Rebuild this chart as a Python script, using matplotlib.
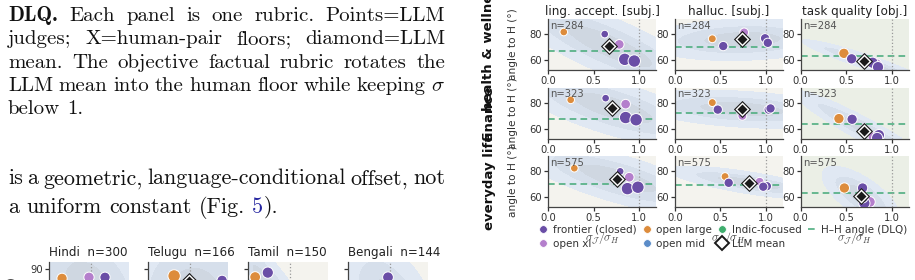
import numpy as np
import matplotlib
matplotlib.use('Agg')
import matplotlib.pyplot as plt
from matplotlib.lines import Line2D

W, H = 915, 280
plt.rcParams['mathtext.fontset'] = 'cm'
plt.rcParams['font.family'] = ['DejaVu Sans']

# ---------------- text (caption / body) ----------------
caption_lines = [
    ["DLQ.", "Each", "panel", "is", "one", "rubric.", "Points=LLM"],
    ["judges;", "X=human-pair", "floors;", "diamond=LLM"],
    ["mean.", "The", "objective", "factual", "rubric", "rotates", "the"],
    ["LLM", "mean", "into", "the", "human", "floor", "while", "keeping", r"$\sigma$"],
    ["below", "1."],
]
body_lines = [
    ["is", "a", "geometric,", "language-conditional", "offset,", "not"],
    ["a", "uniform", "constant", "(Fig.", "5", ")."],
]

# ---------------- right figure data ----------------
rubrics = ['ling. accept. [subj.]', 'halluc. [subj.]', 'task quality [obj.]']
rubric_kind = ['subj', 'subj', 'obj']
domains = ['health & wellness', 'finance', 'everyday life']
domain_n = [284, 323, 575]
hh_angle = [[67.2, 70.5, 63.3],
            [67.9, 72.5, 63.5],
            [70.6, 69.4, 63.2]]
mean_ratio = [[0.67, 0.74, 0.70],
              [0.70, 0.74, 0.70],
              [0.76, 0.81, 0.66]]
mean_angle = [[71.0, 76.2, 59.2],
              [76.4, 75.1, 58.2],
              [74.2, 71.2, 61.3]]
judge_tier = ['open large', 'frontier (closed)', 'open xl', 'frontier (closed)', 'frontier (closed)']
judge_size = [[30, 30, 48, 80, 80],
              [32, 45, 40, 45, 45],
              [55, 55, 60, 65, 65]]
# judge ratio sigma_J/sigma_H  [domain][rubric][judge]
judge_ratio = [
    [[0.17, 0.62, 0.78, 0.84, 0.945], [0.41, 0.53, 0.76, 0.99, 1.02], [0.475, 0.56, 0.83, 0.79, 0.85]],
    [[0.246, 0.63, 0.85, 0.85, 0.965], [0.41, 0.47, 0.74, 1.03, 1.05], [0.42, 0.565, 0.80, 0.86, 0.84]],
    [[0.286, 0.79, 0.89, 0.87, 0.985], [0.55, 0.59, 0.93, 1.01, 0.97], [0.48, 0.68, 0.76, 0.70, 0.68]],
]
judge_angle = [
    [[81.8, 80.2, 72.3, 60.8, 59.5], [76.6, 71.0, 81.5, 77.0, 73.5], [65.4, 61.2, 57.2, 58.2, 54.8]],
    [[82.3, 83.6, 79.0, 68.7, 67.0], [80.2, 74.8, 70.0, 74.8, 75.7], [67.9, 67.4, 53.5, 55.2, 53.0]],
    [[82.4, 80.0, 75.5, 66.7, 67.8], [76.0, 71.2, 72.0, 68.6, 68.2], [67.2, 67.2, 56.5, 55.5, 60.0]],
]

# ---------------- bottom-left figure data ----------------
languages = ['Hindi', 'Telugu', 'Tamil', 'Bengali']
lang_n = [300, 166, 150, 144]
lang_tier = [['open large', 'open xl', 'frontier (closed)', 'frontier (closed)', 'frontier (closed)'],
             ['open large', 'frontier (closed)', 'frontier (closed)', 'open xl', 'frontier (closed)'],
             ['open large', 'frontier (closed)', 'frontier (closed)', 'open xl', 'frontier (closed)'],
             ['frontier (closed)', 'open large', 'frontier (closed)', 'open xl', 'frontier (closed)']]
lang_ratio = [[0.31, 0.95, 1.33, 1.05, 1.2],
              [0.62, 1.76, 1.1, 0.9, 1.3],
              [0.17, 0.47, 0.9, 0.7, 1.1],
              [0.95, 0.6, 1.2, 1.0, 1.4]]
lang_angle = [[85.9, 86.4, 86.4, 72.0, 68.0],
              [87.0, 85.0, 70.0, 74.0, 66.0],
              [86.5, 88.5, 72.0, 75.0, 68.0],
              [86.4, 74.0, 70.0, 72.0, 66.0]]
lang_size = [[55, 55, 55, 60, 60],
             [80, 55, 60, 60, 60],
             [60, 65, 60, 60, 60],
             [60, 60, 60, 60, 60]]
lang_mean_ratio = [0.99, 0.98, 0.67, 0.97]
lang_mean_angle = [79.7, 84.6, 78.0, 73.6]

tier_colors = {
    'frontier (closed)': '#6a4ea6',
    'open xl': '#b47fcc',
    'open large': '#dd8c3c',
    'open mid': '#5b8cc8',
    'Indic-focused': '#3fae6e',
}
hh_color = '#4fae80'
bg_subj = '#f4f3ee'
bg_obj = '#ebefe6'

fig = plt.figure(figsize=(W / 100, H / 100), dpi=100)
fig.patch.set_facecolor('white')
renderer = fig.canvas.get_renderer()

FS_CAP = 15.0
FS_BODY = 15.9
TXT = '#111111'


def place_line(tokens, y_base, fs, x0=8.0, x1=445.0, justify=True, props=None, nospace=()):
    texts = []
    for i, tok in enumerate(tokens):
        kw = dict(family='cmr10', fontsize=fs, color=TXT)
        if props and i in props:
            kw.update(props[i])
        t = fig.text(0, 1 - y_base / H, tok, ha='left', va='baseline', **kw)
        texts.append(t)
    widths = [t.get_window_extent(renderer=renderer).width for t in texts]
    space = fs * 100 / 72 * 0.333
    if justify:
        gap = (x1 - x0 - sum(widths)) / (len(widths) - 1)
    else:
        gap = space
    x = x0
    for i, (t, w) in enumerate(zip(texts, widths)):
        if i in nospace:
            x -= gap
        t.set_x(x / W)
        x += w + gap


cap_y = [20.7, 44.0, 67.5, 91.0, 114.5]
for i, toks in enumerate(caption_lines):
    props = {0: dict(family='cmb10')} if i == 0 else None
    place_line(toks, cap_y[i], FS_CAP, justify=(i < len(caption_lines) - 1), props=props)
place_line(body_lines[0], 184.3, FS_BODY, justify=True)
place_line(body_lines[1], 212.7, FS_BODY, justify=False, props={4: dict(color='#2525a0')}, nospace=(5,))


def add_ax(left, top, w, h):
    return fig.add_axes([left / W, 1 - (top + h) / H, w / W, h / H])


def blob(ax, xs, ys, xlim, ylim, k=3.5):
    X = np.array([xs, ys], dtype=float)
    mu = X.mean(axis=1)
    cov = np.cov(X) * k
    cov[0, 0] += 1e-3
    cov[1, 1] += 2.0
    gx, gy = np.meshgrid(np.linspace(xlim[0], xlim[1], 240), np.linspace(ylim[0], ylim[1], 240))
    d = np.stack([gx - mu[0], gy - mu[1]], -1)
    inv = np.linalg.inv(cov)
    m = np.einsum('...i,ij,...j->...', d, inv, d)
    ax.contourf(gx, gy, m, levels=[0, 0.7, 2.0, 4.5],
                colors=['#cfd7e1', '#d6dfeb', '#e0e8f3'], zorder=0.5)


def style_ax(ax, bg):
    ax.set_facecolor(bg)
    for s in ['top', 'right']:
        ax.spines[s].set_visible(False)
    for s in ['left', 'bottom']:
        ax.spines[s].set_color('#444444')
        ax.spines[s].set_linewidth(0.9)
    ax.tick_params(colors='#333333', labelsize=7.2, length=3, width=0.9, pad=1.5)


def diamond(ax, x, y, scale=1.0):
    ax.plot([x], [y], marker='D', ms=8.4 * scale, mfc='#1a1a1a', mec='#1a1a1a', mew=0.6, ls='', zorder=5)
    ax.plot([x], [y], marker='D', ms=7.0 * scale, mfc='white', mec='none', ls='', zorder=6)
    ax.plot([x], [y], marker='D', ms=4.9 * scale, mfc='#1a1a1a', mec='none', ls='', zorder=7)


# ---------------- right figure ----------------
col_left = [548.3, 675.0, 800.7]
row_top = [19.0, 87.5, 156.0]
PW, PH = 108.0, 51.0
XL = (0.0, 1.187)
YL = (52.6, 91.8)
for r in range(3):
    for c in range(3):
        ax = add_ax(col_left[c], row_top[r], PW, PH)
        style_ax(ax, bg_subj if rubric_kind[c] == 'subj' else bg_obj)
        ax.set_xlim(*XL)
        ax.set_ylim(*YL)
        xs = judge_ratio[r][c]
        ys = judge_angle[r][c]
        blob(ax, xs, ys, XL, YL)
        ax.axhline(hh_angle[r][c], color=hh_color, ls=(0, (4, 2.5)), lw=1.2, zorder=1)
        ax.axvline(1.0, color='#999999', ls=':', lw=0.9, zorder=1)
        cols = [tier_colors[t] for t in judge_tier]
        ax.scatter(xs, ys, s=judge_size[c], c=cols, edgecolors='white', linewidths=0.7, zorder=3)
        diamond(ax, mean_ratio[r][c], mean_angle[r][c])
        ax.text(0.02, 0.97, f'n={domain_n[r]}', transform=ax.transAxes, ha='left', va='top',
                fontsize=7.2, color='#555555', zorder=8)
        ax.set_xticks([0.0, 0.5, 1.0])
        ax.set_xticklabels(['0.0', '0.5', '1.0'])
        ax.set_yticks([60, 80])
        if r == 0:
            ax.set_title(rubrics[c], fontsize=8.6, color='#222222', pad=3)
        if r == 2:
            ax.text(0.5, -0.60, r'$\sigma_{\mathcal{J}}/\sigma_H$', transform=ax.transAxes,
                    ha='center', va='center', fontsize=8.5, color='#444444')
    yc = row_top[r] + PH / 2
    fig.text(513 / W, 1 - yc / H, 'angle to H (°)', rotation=90, ha='center', va='center',
             fontsize=7.6, color='#333333')
    fig.text(489 / W, 1 - yc / H, domains[r], rotation=90, ha='center', va='center',
             fontsize=9.5, fontweight='bold', color='#111111')

handles = [
    Line2D([], [], marker='o', ls='', color=tier_colors['frontier (closed)'], ms=5.5, mec='white', mew=0.5),
    Line2D([], [], marker='o', ls='', color=tier_colors['open xl'], ms=5.5, mec='white', mew=0.5),
    Line2D([], [], marker='o', ls='', color=tier_colors['open large'], ms=5.5, mec='white', mew=0.5),
    Line2D([], [], marker='o', ls='', color=tier_colors['open mid'], ms=5.5, mec='white', mew=0.5),
    Line2D([], [], marker='o', ls='', color=tier_colors['Indic-focused'], ms=5.5, mec='white', mew=0.5),
    Line2D([], [], marker='D', ls='', mfc='white', mec='#1a1a1a', ms=7.5, mew=1.4),
    Line2D([], [], color=hh_color, ls=(0, (4, 2.5)), lw=1.2),
]
labels = ['frontier (closed)', 'open xl', 'open large', 'open mid', 'Indic-focused', 'LLM mean',
          'H\u2013H angle (DLQ)']
leg = fig.legend(handles, labels, ncol=4, loc='upper left', bbox_to_anchor=(539 / W, 1 - 225 / H),
                 frameon=False, fontsize=7.5, handlelength=0.8, handletextpad=0.5,
                 columnspacing=0.6, labelspacing=0.35, borderpad=0, borderaxespad=0)
for t in leg.get_texts():
    t.set_color('#333333')

# ---------------- bottom-left figure ----------------
bl_left = [49.0, 148.0, 248.0, 348.0]
BXL = (0.0, 1.9)
BYL = (40.0, 93.3)
for i, lang in enumerate(languages):
    ax = add_ax(bl_left[i], 262.0, 80.0, 118.0)
    style_ax(ax, bg_subj)
    ax.spines['bottom'].set_visible(False)
    ax.set_xlim(*BXL)
    ax.set_ylim(*BYL)
    blob(ax, lang_ratio[i], lang_angle[i], BXL, BYL)
    ax.axvline(1.0, color='#999999', ls=':', lw=0.9, zorder=1)
    cols = [tier_colors[t] for t in lang_tier[i]]
    ax.scatter(lang_ratio[i], lang_angle[i], s=lang_size[i], c=cols, edgecolors='white',
               linewidths=0.7, zorder=3)
    diamond(ax, lang_mean_ratio[i], lang_mean_angle[i])
    ax.set_xticks([])
    ax.set_yticks([90])
    if i > 0:
        ax.set_yticklabels([])
    ax.set_title(f'{lang}  n={lang_n[i]}', loc='left', fontsize=8.6, color='#222222', pad=4)
fig.text(12 / W, 1 - 313 / H, 'angle to H (°)', rotation=90, ha='center', va='center',
         fontsize=7.6, color='#333333')

fig.savefig('out.png', dpi=100)
